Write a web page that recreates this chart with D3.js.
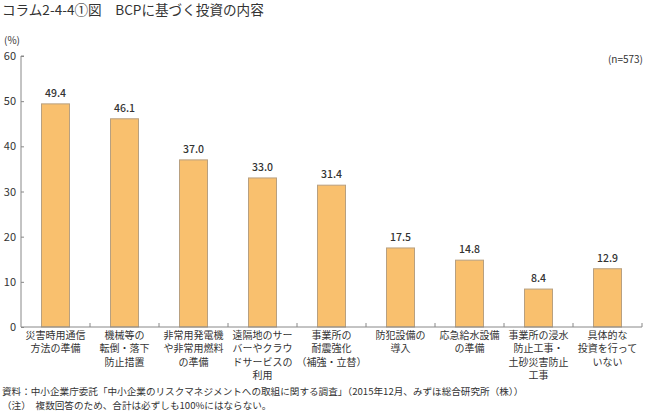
<!DOCTYPE html>
<html><head><meta charset="utf-8">
<script src="https://cdn.jsdelivr.net/npm/d3@7/dist/d3.min.js"></script>
<style>
body{margin:0;background:#fff;}
text{font-family:"Noto Sans CJK JP","Noto Sans",sans-serif;fill:#333;}
</style></head><body>
<svg id="c" width="647" height="411"></svg>
<script>
const categories = [
  ["災害時用通信","方法の準備"],
  ["機械等の","転倒・落下","防止措置"],
  ["非常用発電機","や非常用燃料","の準備"],
  ["遠隔地のサー","バーやクラウ","ドサービスの","利用"],
  ["事業所の","耐震強化","（補強・立替）"],
  ["防犯設備の","導入"],
  ["応急給水設備","の準備"],
  ["事業所の浸水","防止工事・","土砂災害防止","工事"],
  ["具体的な","投資を行って","いない"]
];
const values = [49.4, 46.1, 37.0, 33.0, 31.4, 17.5, 14.8, 8.4, 12.9];
const yTicks = [0,10,20,30,40,50,60];

(function(){
const svg = d3.select("#c");
const mLeft = 21, mRight = 642, mTop = 56, mBottom = 327;
const x = d3.scaleBand().domain(d3.range(categories.length)).range([mLeft, mRight]).paddingInner(0).paddingOuter(0);
const y = d3.scaleLinear().domain([0,60]).range([mBottom, mTop]);
const bw = 28;

svg.append("text").attr("x",2).attr("y",15).attr("font-size",13.6).text("コラム2-4-4①図　BCPに基づく投資の内容");
svg.append("text").attr("x",4).attr("y",44).attr("font-size",10).text("(%)");
svg.append("text").attr("x",643).attr("y",63).attr("font-size",10).attr("text-anchor","end").text("(n=573)");

// y axis
const ya = svg.append("g").attr("transform",`translate(${mLeft},0)`)
  .call(d3.axisRight(y).tickValues(yTicks).tickSize(3).tickFormat(d3.format("d")));
ya.select(".domain").attr("stroke","#888").attr("d",`M3,${mTop}H0V${mBottom}`);
ya.selectAll(".tick line").attr("stroke","#888");
ya.selectAll(".tick text").attr("x",-5).attr("text-anchor","end").attr("font-size",11).attr("fill","#333").attr("font-family","Noto Sans CJK JP");

// bars
svg.selectAll("rect.bar").data(values).join("rect")
  .attr("x",(d,i)=>x(i)+x.bandwidth()/2-bw/2)
  .attr("y",d=>y(d)).attr("width",bw).attr("height",d=>mBottom-y(d))
  .attr("fill","#F9C06E").attr("stroke","#B8A080").attr("stroke-width",1);

svg.selectAll("text.val").data(values).join("text")
  .attr("x",(d,i)=>x(i)+x.bandwidth()/2).attr("y",d=>y(d)-7)
  .attr("text-anchor","middle").attr("font-size",10.5).attr("font-weight",500)
  .text(d=>d.toFixed(1));

// x axis
const xa = svg.append("g").attr("transform",`translate(0,${mBottom})`);
xa.append("line").attr("x1",mLeft).attr("x2",mRight).attr("y1",0).attr("y2",0).attr("stroke","#888");
xa.selectAll("line.t").data(d3.range(1,categories.length+1)).join("line")
  .attr("x1",i=>x.step()*i+mLeft).attr("x2",i=>x.step()*i+mLeft).attr("y1",0).attr("y2",-4).attr("stroke","#888");

const lab = svg.selectAll("text.cat").data(categories).join("text")
  .attr("text-anchor","middle").attr("font-size",10);
lab.each(function(lines,i){
  const t = d3.select(this);
  lines.forEach((l,j)=>{
    t.append("tspan").attr("x",x(i)+x.bandwidth()/2).attr("y",mBottom+11.5+j*13.6).text(l);
  });
});

svg.append("text").attr("x",2).attr("y",394.5).attr("font-size",9.6).text("資料：中小企業庁委託「中小企業のリスクマネジメントへの取組に関する調査」（2015年12月、みずほ総合研究所（株））");
svg.append("text").attr("x",2).attr("y",408.5).attr("font-size",9.6).text("（注）　複数回答のため、合計は必ずしも100%にはならない。");
})();
</script></body></html>
